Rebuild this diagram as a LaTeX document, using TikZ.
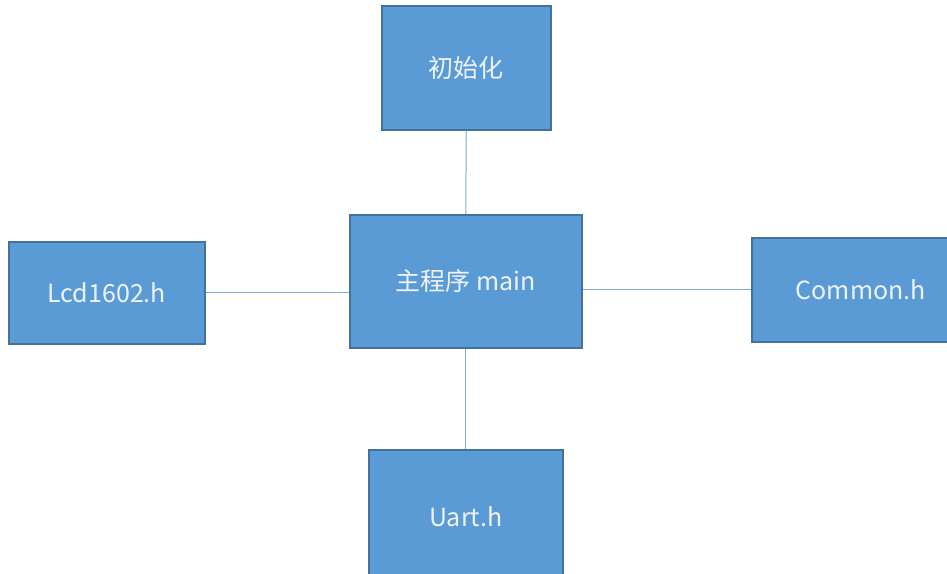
\documentclass[tikz,border=0pt]{standalone}
\usepackage{fontspec}
\setmainfont{Noto Sans CJK SC}
\begin{document}
\begin{tikzpicture}[x=1pt,y=-1pt,
  box/.style={draw=boxborder,line width=1.5pt,fill=boxfill,text=boxtext,font=\fontsize{25}{29}\selectfont,inner sep=0pt,anchor=north west},
  link/.style={draw=linkcol,line width=1pt}]
\definecolor{boxfill}{HTML}{5B9BD5}
\definecolor{boxborder}{HTML}{41719C}
\definecolor{linkcol}{HTML}{7FA9D4}
\definecolor{boxtext}{HTML}{EEF3FA}
\useasboundingbox (0,0) rectangle (947,573);
\clip (0,0) rectangle (947,573);
\node[box,minimum width=169pt,minimum height=124pt] (init) at (381,5) {初始化};
\node[box,minimum width=232pt,minimum height=133pt] (main) at (349,214) {主程序 main};
\node[box,minimum width=196pt,minimum height=102pt] (lcd) at (8,241) {Lcd1602.h};
\node[box,minimum width=218pt,minimum height=104pt] (common) at (751,237) {Common.h};
\node[box,minimum width=194pt,minimum height=140pt] (uart) at (368,449) {\raisebox{6pt}{Uart.h}};
\draw[link] (init.south) -- (main.north);
\draw[link] (lcd.east) -- (lcd.east -| main.west);
\draw[link] (main.east |- common.west) -- (common.west);
\draw[link] (main.south -| uart.north) -- (uart.north);
\end{tikzpicture}
\end{document}
